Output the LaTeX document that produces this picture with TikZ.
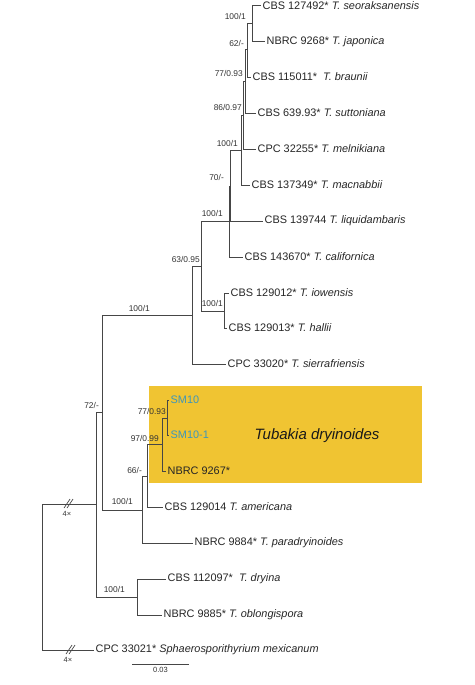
\documentclass[tikz,border=0pt]{standalone}
\usepackage{fontspec}
\setmainfont{Liberation Sans}
\usetikzlibrary{positioning}
\definecolor{branch}{RGB}{70,70,70}
\definecolor{cladegold}{RGB}{240,196,50}
\definecolor{isolate}{RGB}{62,150,186}

\begin{document}
\begin{tikzpicture}[x=1pt, y=-1pt,
	taxon/.style={anchor=west, inner sep=1.5pt, text=black!85, font=\fontsize{10.9}{12}\selectfont},
	support/.style={anchor=east, inner sep=0pt, text=black!80, font=\fontsize{8.4}{9}\selectfont},
	tree/.style={draw=branch, line width=1pt},
	cut/.style={draw=branch, line width=0.7pt},
	small/.style={inner sep=0pt, text=black!80, font=\fontsize{7.5}{8}\selectfont}]
	\useasboundingbox (0,0) rectangle (474,685);

	% highlighted clade
	\node[fill=cladegold, minimum width=273pt, minimum height=97pt, inner sep=0pt] (clade) at (285.5,434.5) {};
	\node[inner sep=0pt, text=black!90, font=\fontsize{15}{17}\selectfont\itshape] (cladename) at (317,436) {Tubakia dryinoides};

	% internal nodes
	\coordinate (nA) at (252,24);
	\coordinate (nB) at (247,50);
	\coordinate (nC) at (245,81);
	\coordinate (nD) at (243,115);
	\coordinate (nE) at (241,150);
	\coordinate (nF) at (230,186);
	\coordinate (nG) at (229,221);
	\coordinate (nH) at (224,311);
	\coordinate (nI) at (201,266);
	\coordinate (nJ) at (192,315);
	\coordinate (nQ) at (167,418);
	\coordinate (nP) at (162,444);
	\coordinate (nO) at (147,476);
	\coordinate (nN) at (142,510);
	\coordinate (nL) at (102,412);
	\coordinate (nM) at (137,597);
	\coordinate (nK) at (96,504);
	\coordinate (root) at (42,577);

	% taxa
	\node[taxon] (seo)    at (261,6)   {CBS 127492* \textit{T. seoraksanensis}};
	\node[taxon] (jap)    at (265,42)  {NBRC 9268* \textit{T. japonica}};
	\node[taxon] (brau)   at (251,77)  {CBS 115011*~ \textit{T. braunii}};
	\node[taxon] (sutt)   at (256,113) {CBS 639.93* \textit{T. suttoniana}};
	\node[taxon] (meln)   at (256,149) {CPC 32255* \textit{T. melnikiana}};
	\node[taxon] (macn)   at (250,185) {CBS 137349* \textit{T. macnabbii}};
	\node[taxon] (liqu)   at (263,221) {CBS 139744 \textit{T. liquidambaris}};
	\node[taxon] (cali)   at (243,257) {CBS 143670* \textit{T. californica}};
	\node[taxon] (iowe)   at (229,293) {CBS 129012* \textit{T. iowensis}};
	\node[taxon] (hall)   at (227,328) {CBS 129013* \textit{T. hallii}};
	\node[taxon] (sier)   at (226,364) {CPC 33020* \textit{T. sierrafriensis}};
	\node[taxon, text=isolate] (sm10)  at (169,400) {SM10};
	\node[taxon, text=isolate] (sm10b) at (169,435) {SM10-1};
	\node[taxon] (nbrc)   at (166,471) {NBRC 9267*};
	\node[taxon] (amer)   at (163,507) {CBS 129014 \textit{T. americana}};
	\node[taxon] (para)   at (193,543) {NBRC 9884* \textit{T. paradryinoides}};
	\node[taxon] (dryi)   at (166,579) {CBS 112097*~ \textit{T. dryina}};
	\node[taxon] (oblo)   at (162,615) {NBRC 9885* \textit{T. oblongispora}};
	\node[taxon] (sphae)  at (94,650)  {CPC 33021* \textit{Sphaerosporithyrium mexicanum}};

	% branches
	\draw[tree] (nA) |- (seo.west);
	\draw[tree] (nA) |- (jap.west);
	\draw[tree] (nB) |- (nA);
	\draw[tree] (nB) |- (brau.west);
	\draw[tree] (nC) |- (nB);
	\draw[tree] (nC) |- (sutt.west);
	\draw[tree] (nD) |- (nC);
	\draw[tree] (nD) |- (meln.west);
	\draw[tree] (nE) |- (nD);
	\draw[tree] (nE) |- (macn.west);
	\draw[tree] (nF) |- (nE);
	\draw[tree] (nF) |- (liqu.west);
	\draw[tree] (nG) |- (nF);
	\draw[tree] (nG) |- (cali.west);
	\draw[tree] (nH) |- (iowe.west);
	\draw[tree] (nH) |- (hall.west);
	\draw[tree] (nI) |- (nG);
	\draw[tree] (nI) |- (nH);
	\draw[tree] (nJ) |- (nI);
	\draw[tree] (nJ) |- (sier.west);
	\draw[tree] (nQ) |- (sm10.west);
	\draw[tree] (nQ) |- (sm10b.west);
	\draw[tree] (nP) |- (nQ);
	\draw[tree] (nP) |- (nbrc.west);
	\draw[tree] (nO) |- (nP);
	\draw[tree] (nO) |- (amer.west);
	\draw[tree] (nN) |- (nO);
	\draw[tree] (nN) |- (para.west);
	\draw[tree] (nL) |- (nJ);
	\draw[tree] (nL) |- (nN);
	\draw[tree] (nM) |- (dryi.west);
	\draw[tree] (nM) |- (oblo.west);
	\draw[tree] (nK) |- (nL);
	\draw[tree] (nK) |- (nM);
	\draw[tree] (root) |- (nK);
	\draw[tree] (root) |- (sphae.west);

	% support values
	\node[support] (sA) at (246,16)  {100/1};
	\node[support] (sB) at (244,43)  {62/-};
	\node[support] (sC) at (243,73)  {77/0.93};
	\node[support] (sD) at (242,107) {86/0.97};
	\node[support] (sE) at (238,143) {100/1};
	\node[support] (sF) at (224,177) {70/-};
	\node[support] (sG) at (223,213) {100/1};
	\node[support] (sI) at (200,259) {63/0.95};
	\node[support] (sH) at (223,303) {100/1};
	\node[support] (sJ) at (150,308) {100/1};
	\node[support] (sQ) at (166,411) {77/0.93};
	\node[support] (sP) at (159,438) {97/0.99};
	\node[support] (sO) at (142,470) {66/-};
	\node[support] (sN) at (133,501) {100/1};
	\node[support] (sL) at (99,405)  {72/-};
	\node[support] (sM) at (125,589) {100/1};

	% shortened branches
	\draw[cut] (64,508) -- (70,499);
	\draw[cut] (67,508) -- (73,499);
	\node[small] (cutK) at (67,514) {4×};
	\draw[cut] (66,654) -- (72,645);
	\draw[cut] (69,654) -- (75,645);
	\node[small] (cutS) at (68,660) {4×};

	% scale bar
	\coordinate (barL) at (132,664);
	\coordinate (barR) at (189,664);
	\draw[cut] (barL) -- (barR);
	\node[small, below=3pt of barL, xshift=28.5pt] (barlab) {0.03};
\end{tikzpicture}
\end{document}
